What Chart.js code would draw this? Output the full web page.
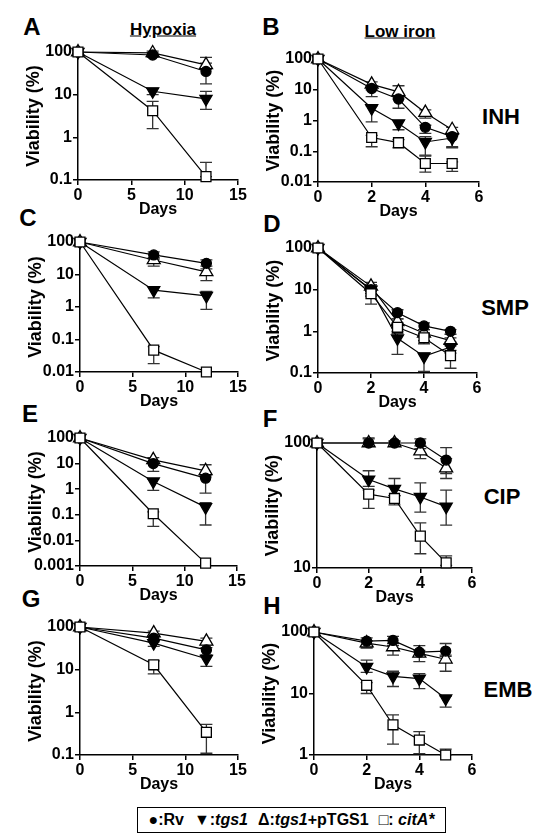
<!DOCTYPE html>
<html><head><meta charset="utf-8">
<script src="https://cdn.jsdelivr.net/npm/chart.js@4.4.1/dist/chart.umd.min.js"></script>
<style>
html,body{margin:0;padding:0;background:#fff;}
body{width:549px;height:835px;position:relative;overflow:hidden;font-family:"Liberation Sans",Arial,sans-serif;}
canvas{position:absolute;}
.t{position:absolute;font-weight:bold;color:#000;white-space:nowrap;transform:translate(-50%,-50%);line-height:1;}
.let{font-size:24px;}
.drug{font-size:22px;}
.head{font-size:17px;text-decoration:underline;}
#legend{position:absolute;left:137px;top:807px;width:307px;height:24px;border:1.5px solid #000;font-weight:bold;font-size:16px;display:flex;align-items:center;justify-content:center;white-space:nowrap;}
#legend span{margin:0 5px;}
</style></head><body>

<div class="t let" style="left:32px;top:27px">A</div>
<div class="t let" style="left:271px;top:27px">B</div>
<div class="t let" style="left:28px;top:218px">C</div>
<div class="t let" style="left:272px;top:224px">D</div>
<div class="t let" style="left:30px;top:414px">E</div>
<div class="t let" style="left:270px;top:419px">F</div>
<div class="t let" style="left:31px;top:599px">G</div>
<div class="t let" style="left:272px;top:606px">H</div>
<div class="t head" style="left:163px;top:29px">Hypoxia</div>
<div class="t head" style="left:400px;top:31px">Low iron</div>
<div class="t drug" style="left:501px;top:117px">INH</div>
<div class="t drug" style="left:505px;top:308px">SMP</div>
<div class="t drug" style="left:502px;top:497px">CIP</div>
<div class="t drug" style="left:508px;top:690px">EMB</div>
<div id="legend"><span>●:Rv</span><span>▼:<i>tgs1</i></span><span>Δ:<i>tgs1</i>+pTGS1</span><span>□: <i>citA*</i></span></div>

<script>
// ---------- DATA ----------
const hypoxiaDays = [0, 7, 12];
const ironDays = [0, 2, 3, 4, 5];
const seriesNames = ['Rv', 'tgs1', 'tgs1+pTGS1', 'citA*'];
const decadeLabels = ['0.001', '0.01', '0.1', '1', '10', '100'];

// A: Hypoxia / INH
const A_rv = [100, 85, 35];        const A_rv_err = [null, [75, 95], [18, 55]];
const A_tgs1 = [100, 12, 8];       const A_tgs1_err = [null, [10, 14], [4.5, 12]];
const A_comp = [100, 95, 50];      const A_comp_err = [null, [88, 105], [40, 75]];
const A_citA = [100, 4.2, 0.12];   const A_citA_err = [null, [1.6, 7], [0.12, 0.26]];
// B: Low iron / INH
const B_rv = [100, 11, 5, 0.6, 0.3];      const B_rv_err = [null, [6, 13], [2.5, 6], [0.38, 0.7], [0.13, 0.35]];
const B_tgs1 = [100, 2.5, 0.8, 0.2, 0.27]; const B_tgs1_err = [null, [0.9, 3], [0.5, 1], [0.075, 0.3], [0.14, 0.38]];
const B_comp = [100, 15, 8.5, 1.8, 0.5];  const B_comp_err = [null, [10, 18], [5, 13.5], [1.2, 2.2], [0.3, 0.6]];
const B_citA = [100, 0.28, 0.19, 0.04, 0.04]; const B_citA_err = [null, [0.14, 0.33], [0.13, 0.24], [0.021, 0.07], [0.022, 0.045]];
// C: Hypoxia / SMP
const C_rv = [100, 40, 22];        const C_rv_err = [null, [30, 50], [18, 28]];
const C_tgs1 = [100, 3.3, 2.2];    const C_tgs1_err = [null, [1.9, 4], [0.85, 3]];
const C_comp = [100, 28, 12];      const C_comp_err = [null, [18, 33], [6.5, 15]];
const C_citA = [100, 0.047, 0.01]; const C_citA_err = [null, [0.018, 0.06], null];
// D: Low iron / SMP
const D_rv = [100, 10, 2.8, 1.35, 1.0];   const D_rv_err = [null, [8, 13], [2, 3.3], [1.1, 1.6], [0.85, 1.1]];
const D_tgs1 = [100, 10, 0.68, 0.25, 0.42]; const D_tgs1_err = [null, [7, 13], [0.28, 1], [0.11, 0.3], [0.3, 0.55]];
const D_comp = [100, 12, 1.7, 0.9, 0.6];  const D_comp_err = [null, [9, 15], [1.2, 2], [0.6, 1.1], [0.45, 0.7]];
const D_citA = [100, 8, 1.25, 0.7, 0.26]; const D_citA_err = [null, [4.5, 10], [0.9, 1.6], [0.5, 0.9], [0.13, 0.35]];
// E: Hypoxia / CIP
const E_rv = [100, 10, 2.7];        const E_rv_err = [null, [5, 12], [0.7, 3.5]];
const E_tgs1 = [100, 2, 0.2];       const E_tgs1_err = [null, [0.9, 2.5], [0.04, 0.3]];
const E_comp = [100, 14, 5.2];      const E_comp_err = [null, [10, 17], [3, 9]];
const E_citA = [100, 0.11, 0.0013]; const E_citA_err = [null, [0.035, 0.13], null];
// F: Low iron / CIP
const F_rv = [100, 100, 100, 100, 73];  const F_rv_err = [null, [95, 108], [96, 104], [90, 108], [57, 92]];
const F_tgs1 = [100, 51, 43, 37, 31];   const F_tgs1_err = [null, [45, 60], [38, 52], [28, 48], [22, 42]];
const F_comp = [100, 100, 100, 86, 63]; const F_comp_err = [null, [95, 110], [97, 103], [75, 95], [52, 75]];
const F_citA = [100, 39, 36, 18, 11];   const F_citA_err = [null, [30, 42], [32, 38], [13, 23], [10.5, 12.5]];
// G: Hypoxia / EMB
const G_rv = [100, 55, 29];        const G_rv_err = [null, [45, 62], [22, 33]];
const G_tgs1 = [100, 42, 18];      const G_tgs1_err = [null, [35, 50], [12, 22]];
const G_comp = [100, 72, 46];      const G_comp_err = [null, [62, 80], [38, 55]];
const G_citA = [100, 13, 0.34];    const G_citA_err = [null, [8, 16], [0.11, 0.52]];
// H: Low iron / EMB
const H_rv = [100, 71, 73, 47, 49];     const H_rv_err = [null, [55, 80], [60, 85], [40, 60], [40, 65]];
const H_tgs1 = [100, 27, 19, 17.5, 8.3]; const H_tgs1_err = [null, [22, 35], [13, 23], [12, 21], [6, 9]];
const H_comp = [100, 66, 57, 45, 36];   const H_comp_err = [null, [55, 72], [42, 65], [33, 50], [23, 42]];
const H_citA = [100, 13.6, 3.1, 1.75, 1.0]; const H_citA_err = [null, [10, 15], [1.5, 4.5], [1.05, 2.4], [1, 1.25]];

// ---------- RENDERING ----------
const FONT = '"Liberation Sans", Arial, sans-serif';
Chart.defaults.font.family = FONT;

const errorBars = {
  id: 'errorBars',
  beforeDatasetsDraw(chart) {
    const ctx = chart.ctx, ys = chart.scales.y;
    chart.data.datasets.forEach((ds, i) => {
      if (!ds.errors) return;
      const meta = chart.getDatasetMeta(i);
      ctx.save();
      ctx.strokeStyle = '#333';
      ctx.lineWidth = 1.3;
      ds.errors.forEach((e, j) => {
        if (!e) return;
        const px = meta.data[j].x;
        const y1 = ys.getPixelForValue(e[0]), y2 = ys.getPixelForValue(e[1]);
        ctx.beginPath();
        ctx.moveTo(px, y1); ctx.lineTo(px, y2);
        ctx.moveTo(px - 6, y1); ctx.lineTo(px + 6, y1);
        ctx.moveTo(px - 6, y2); ctx.lineTo(px + 6, y2);
        ctx.stroke();
      });
      ctx.restore();
    });
  }
};

const YW = 60, XH = 38, PT = 14, PR = 14;

function makePanel(geo, days, xMax, xStep, yMin, yMax, s) {
  const c = document.createElement('canvas');
  const w = YW + (geo.R - geo.L) + PR, h = PT + (geo.B - geo.T) + XH;
  c.width = w; c.height = h;
  c.style.left = (geo.L - YW) + 'px';
  c.style.top = (geo.T - PT) + 'px';
  c.style.width = w + 'px'; c.style.height = h + 'px';
  document.body.appendChild(c);

  const base = { borderColor: '#000', borderWidth: 1.2, pointBorderColor: '#000', pointBorderWidth: 1.3, tension: 0, clip: false, fill: false };
  const mk = (name, data, err, style) => Object.assign({ label: name, data: days.map((d, i) => ({ x: d, y: data[i] })), errors: err }, base, style);
  const datasets = [
    mk(seriesNames[3], s.citA, s.citAErr, { pointStyle: 'rect', pointRadius: 7, pointBackgroundColor: '#fff' }),
    mk(seriesNames[0], s.rv, s.rvErr, { pointStyle: 'circle', pointRadius: 5, pointBackgroundColor: '#000' }),
    mk(seriesNames[1], s.tgs1, s.tgs1Err, { pointStyle: 'triangle', pointRotation: 180, pointRadius: 7, pointBackgroundColor: '#000' }),
    mk(seriesNames[2], s.comp, s.compErr, { pointStyle: 'triangle', pointRadius: 7.5, pointBackgroundColor: '#fff' })
  ];
  const tickFont = { size: 16, weight: 'bold', family: FONT };
  new Chart(c, {
    type: 'line',
    data: { datasets },
    plugins: [errorBars],
    options: {
      responsive: false, animation: false, devicePixelRatio: 1,
      layout: { padding: { top: PT, right: PR, left: 0, bottom: 0 } },
      plugins: { legend: { display: false }, tooltip: { enabled: false } },
      scales: {
        x: {
          type: 'linear', min: 0, max: xMax,
          ticks: { stepSize: xStep, color: '#000', font: tickFont, padding: 1, maxRotation: 0 },
          grid: { drawOnChartArea: false, color: '#000', tickLength: 5, lineWidth: 1.5 },
          border: { color: '#000', width: 1.5 },
          title: { display: true, text: 'Days', color: '#000', font: { size: 16, weight: 'bold', family: FONT, lineHeight: 1 }, padding: 0 },
          afterFit(sc) { sc.height = XH; sc.paddingLeft = 0; sc.paddingRight = 0; }
        },
        y: {
          type: 'logarithmic', min: yMin, max: yMax,
          afterBuildTicks(sc) {
            const t = [];
            for (let e = Math.round(Math.log10(yMin)); e <= Math.round(Math.log10(yMax)); e++) t.push({ value: Math.pow(10, e) });
            sc.ticks = t;
          },
          ticks: { color: '#000', font: tickFont, padding: 1, callback: (v) => decadeLabels[Math.round(Math.log10(v)) + 3] },
          grid: { drawOnChartArea: false, color: '#000', tickLength: 5, lineWidth: 1.5 },
          border: { color: '#000', width: 1.5 },
          title: { display: true, text: 'Viability (%)', color: '#000', font: { size: 18, weight: 'bold', family: FONT, lineHeight: 1 }, padding: { top: 7, bottom: 0 } },
          afterFit(sc) { sc.width = YW; sc.paddingTop = 0; sc.paddingBottom = 0; }
        }
      }
    }
  });
}

makePanel({ L: 78, R: 238, T: 52, B: 180 }, hypoxiaDays, 15, 5, 0.1, 100,
  { rv: A_rv, rvErr: A_rv_err, tgs1: A_tgs1, tgs1Err: A_tgs1_err, comp: A_comp, compErr: A_comp_err, citA: A_citA, citAErr: A_citA_err });
makePanel({ L: 318, R: 479, T: 59, B: 182 }, ironDays, 6, 2, 0.01, 100,
  { rv: B_rv, rvErr: B_rv_err, tgs1: B_tgs1, tgs1Err: B_tgs1_err, comp: B_comp, compErr: B_comp_err, citA: B_citA, citAErr: B_citA_err });
makePanel({ L: 80, R: 238, T: 242, B: 372 }, hypoxiaDays, 15, 5, 0.01, 100,
  { rv: C_rv, rvErr: C_rv_err, tgs1: C_tgs1, tgs1Err: C_tgs1_err, comp: C_comp, compErr: C_comp_err, citA: C_citA, citAErr: C_citA_err });
makePanel({ L: 318, R: 477, T: 248, B: 373 }, ironDays, 6, 2, 0.1, 100,
  { rv: D_rv, rvErr: D_rv_err, tgs1: D_tgs1, tgs1Err: D_tgs1_err, comp: D_comp, compErr: D_comp_err, citA: D_citA, citAErr: D_citA_err });
makePanel({ L: 80, R: 237, T: 438, B: 566 }, hypoxiaDays, 15, 5, 0.001, 100,
  { rv: E_rv, rvErr: E_rv_err, tgs1: E_tgs1, tgs1Err: E_tgs1_err, comp: E_comp, compErr: E_comp_err, citA: E_citA, citAErr: E_citA_err });
makePanel({ L: 317, R: 472, T: 443, B: 568 }, ironDays, 6, 2, 10, 100,
  { rv: F_rv, rvErr: F_rv_err, tgs1: F_tgs1, tgs1Err: F_tgs1_err, comp: F_comp, compErr: F_comp_err, citA: F_citA, citAErr: F_citA_err });
makePanel({ L: 80, R: 238, T: 627, B: 755 }, hypoxiaDays, 15, 5, 0.1, 100,
  { rv: G_rv, rvErr: G_rv_err, tgs1: G_tgs1, tgs1Err: G_tgs1_err, comp: G_comp, compErr: G_comp_err, citA: G_citA, citAErr: G_citA_err });
makePanel({ L: 314, R: 472, T: 632, B: 755 }, ironDays, 6, 2, 1, 100,
  { rv: H_rv, rvErr: H_rv_err, tgs1: H_tgs1, tgs1Err: H_tgs1_err, comp: H_comp, compErr: H_comp_err, citA: H_citA, citAErr: H_citA_err });
</script>
</body></html>
